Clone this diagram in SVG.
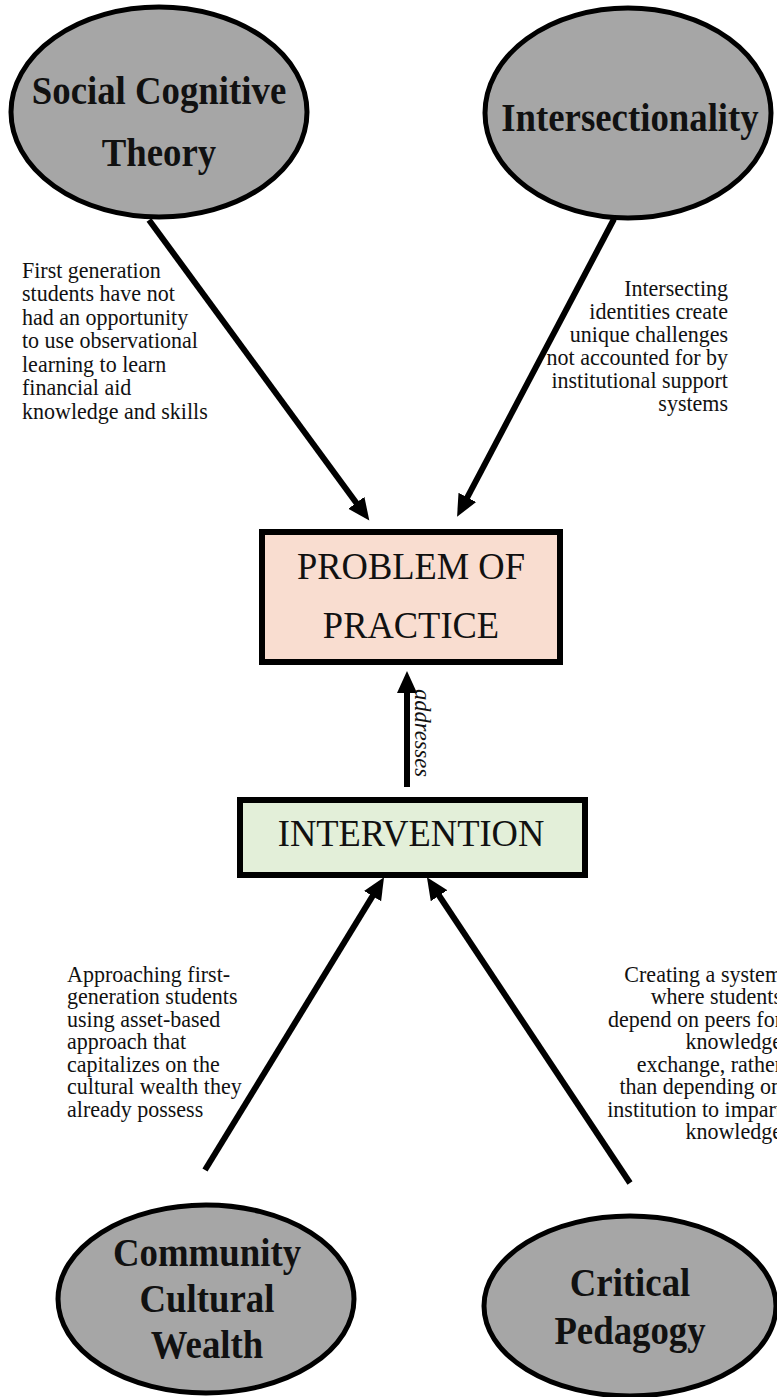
<svg xmlns="http://www.w3.org/2000/svg" width="777" height="1397" viewBox="0 0 777 1397">
<defs>
<style>
.ell{fill:#a6a6a6;stroke:#000;stroke-width:5}
.lbl{font-family:"Liberation Serif","Times New Roman",serif;font-weight:bold;font-size:40px;fill:#111;text-anchor:middle}
.box{stroke:#000;stroke-width:6}
.btxt{font-family:"Liberation Serif","Times New Roman",serif;font-size:38px;fill:#111;text-anchor:middle}
.note{font-family:"Liberation Serif","Times New Roman",serif;font-size:24px;fill:#111}
.conn{stroke:#000;stroke-width:6;fill:none;marker-end:url(#ah)}
</style>
<marker id="ah" markerUnits="userSpaceOnUse" markerWidth="24" markerHeight="24" viewBox="0 -11 24 22" refX="2" refY="0" orient="auto">
<path d="M0,-10 L22,0 L0,10 z" fill="#000"/>
</marker>
</defs>
<rect width="777" height="1397" fill="#fff"/>

<g id="connectors">
<line class="conn" x1="149" y1="220" x2="357.5" y2="504.4"/>
<line class="conn" x1="614" y1="219" x2="466.4" y2="499.1"/>
<line class="conn" x1="407" y1="787" x2="407" y2="691"/>
<line class="conn" x1="205" y1="1170" x2="373.6" y2="894.4"/>
<line class="conn" x1="630" y1="1183" x2="438" y2="894"/>
<text class="note" font-style="italic" transform="translate(415,689) rotate(90) scale(0.94,1)">addresses</text>
</g>

<g id="node-sct">
<ellipse class="ell" cx="159" cy="112" rx="148" ry="105"/>
<text class="lbl" transform="translate(159,104) scale(0.92,1)">Social Cognitive</text>
<text class="lbl" transform="translate(159,166) scale(0.92,1)">Theory</text>
</g>

<g id="node-intersectionality">
<ellipse class="ell" cx="628" cy="113" rx="143" ry="105"/>
<text class="lbl" transform="translate(630,131) scale(0.92,1)">Intersectionality</text>
</g>

<g id="note-sct" transform="translate(22,0) scale(0.917,1)">
<text class="note" x="0" y="278">First generation</text>
<text class="note" x="0" y="301.5">students have not</text>
<text class="note" x="0" y="325">had an opportunity</text>
<text class="note" x="0" y="348.5">to use observational</text>
<text class="note" x="0" y="372">learning to learn</text>
<text class="note" x="0" y="395.5">financial aid</text>
<text class="note" x="0" y="419">knowledge and skills</text>
</g>

<g id="note-intersectionality" text-anchor="end" transform="translate(728,0) scale(0.917,1)">
<text class="note" x="0" y="296">Intersecting</text>
<text class="note" x="0" y="319">identities create</text>
<text class="note" x="0" y="342">unique challenges</text>
<text class="note" x="0" y="365">not accounted for by</text>
<text class="note" x="0" y="388">institutional support</text>
<text class="note" x="0" y="411">systems</text>
</g>

<g id="node-problem">
<rect class="box" x="262" y="532" width="298" height="130" fill="#f9ddd0"/>
<text class="btxt" transform="translate(411,579) scale(0.96,1)">PROBLEM OF</text>
<text class="btxt" transform="translate(411,638) scale(0.96,1)">PRACTICE</text>
</g>

<g id="node-intervention">
<rect class="box" x="240" y="800" width="345" height="75" fill="#e3efd9"/>
<text class="btxt" transform="translate(411,846) scale(0.96,1)">INTERVENTION</text>
</g>

<g id="note-ccw" transform="translate(67,0) scale(0.917,1)">
<text class="note" x="0" y="982">Approaching first-</text>
<text class="note" x="0" y="1004.5">generation students</text>
<text class="note" x="0" y="1027">using asset-based</text>
<text class="note" x="0" y="1049.5">approach that</text>
<text class="note" x="0" y="1072">capitalizes on the</text>
<text class="note" x="0" y="1094.5">cultural wealth they</text>
<text class="note" x="0" y="1117">already possess</text>
</g>

<g id="note-cp" text-anchor="end" transform="translate(782,0) scale(0.917,1)">
<text class="note" x="0" y="982">Creating a system</text>
<text class="note" x="0" y="1004.5">where students</text>
<text class="note" x="0" y="1027">depend on peers for</text>
<text class="note" x="0" y="1049.5">knowledge</text>
<text class="note" x="0" y="1072">exchange, rather</text>
<text class="note" x="0" y="1094.5">than depending on</text>
<text class="note" x="0" y="1117">institution to impart</text>
<text class="note" x="0" y="1139.5">knowledge</text>
</g>

<g id="node-ccw">
<ellipse class="ell" cx="206" cy="1299" rx="148" ry="94"/>
<text class="lbl" transform="translate(207,1266) scale(0.92,1)">Community</text>
<text class="lbl" transform="translate(207,1312) scale(0.92,1)">Cultural</text>
<text class="lbl" transform="translate(207,1358) scale(0.92,1)">Wealth</text>
</g>

<g id="node-cp">
<ellipse class="ell" cx="630" cy="1306" rx="146" ry="90"/>
<text class="lbl" transform="translate(630,1296) scale(0.92,1)">Critical</text>
<text class="lbl" transform="translate(630,1344) scale(0.92,1)">Pedagogy</text>
</g>
</svg>
